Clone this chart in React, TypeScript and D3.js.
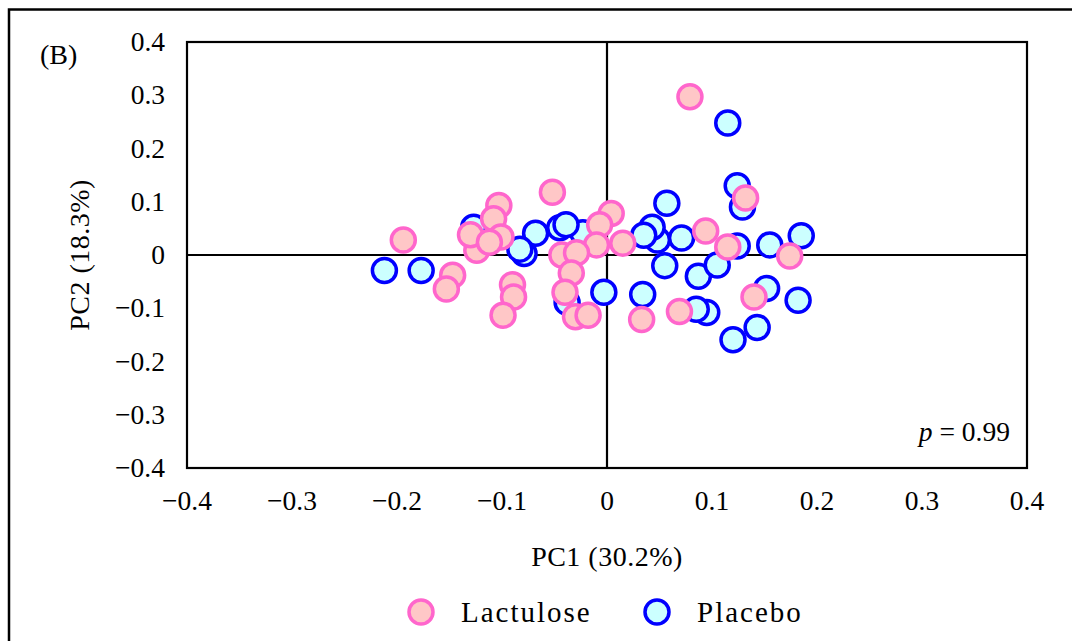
import { useEffect, useRef } from "react";
import * as d3 from "d3";

// PC1, PC2 scores
const lactulose: [number, number][] = [
  [0.079, 0.297], [0.132, 0.107], [0.094, 0.045], [0.115, 0.015], [0.174, -0.002],
  [0.140, -0.079], [0.069, -0.106], [0.033, -0.121], [0.004, 0.078], [-0.007, 0.057],
  [-0.010, 0.019], [0.015, 0.022], [-0.052, 0.118], [-0.043, 0.0], [-0.029, 0.004],
  [-0.034, -0.034], [-0.040, -0.070], [-0.030, -0.116], [-0.018, -0.113], [-0.103, 0.093],
  [-0.108, 0.068], [-0.101, 0.034], [-0.124, 0.009], [-0.130, 0.038], [-0.112, 0.024],
  [-0.194, 0.028], [-0.147, -0.038], [-0.153, -0.064], [-0.090, -0.056], [-0.089, -0.079],
  [-0.099, -0.113],
];

const placebo: [number, number][] = [
  [0.115, 0.248], [0.124, 0.130], [0.129, 0.090], [0.124, 0.017], [0.155, 0.019],
  [0.185, 0.036], [0.182, -0.085], [0.152, -0.063], [0.143, -0.136], [0.120, -0.159],
  [0.095, -0.108], [0.085, -0.102], [0.087, -0.040], [0.105, -0.019], [0.071, 0.032],
  [0.057, 0.097], [0.055, -0.020], [0.048, 0.028], [0.043, 0.052], [0.035, 0.037],
  [0.034, -0.074], [-0.003, -0.070], [-0.023, 0.042], [-0.045, 0.051], [-0.039, 0.057],
  [-0.068, 0.041], [-0.079, 0.003], [-0.083, 0.011], [-0.127, 0.052], [-0.177, -0.029],
  [-0.212, -0.029], [-0.038, -0.089],
];

const ticks = [-0.4, -0.3, -0.2, -0.1, 0, 0.1, 0.2, 0.3, 0.4];

const fmt = (v: number) => (v === 0 ? "0" : (v < 0 ? "\u2212" : "") + Math.abs(v).toFixed(1));

const FONT = "'Liberation Serif', 'DejaVu Serif', serif";

const App = () => {
  const svgRef = useRef<SVGSVGElement>(null);

  useEffect(() => {
    const width = 1072;
    const height = 641;
    const margin = { top: 42, right: 45, bottom: 173, left: 187 };

    const svg = d3.select(svgRef.current);
    svg.selectAll("*").remove();
    svg.attr("width", width).attr("height", height).style("background", "#fff");

    const x = d3.scaleLinear().domain([-0.4, 0.4]).range([margin.left, width - margin.right]);
    const y = d3.scaleLinear().domain([-0.4, 0.4]).range([height - margin.bottom, margin.top]);

    // outer frame (cut off at the right and bottom)
    svg.append("rect")
      .attr("x", 9).attr("y", 9.5).attr("width", 1200).attr("height", 800)
      .attr("fill", "none").attr("stroke", "#000").attr("stroke-width", 2.5);

    svg.append("text")
      .attr("x", 40).attr("y", 64)
      .attr("font-family", FONT).attr("font-size", 28)
      .text("(B)");

    // zero lines
    svg.append("line")
      .attr("x1", x(-0.4)).attr("x2", x(0.4)).attr("y1", y(0)).attr("y2", y(0))
      .attr("stroke", "#000").attr("stroke-width", 2.2);
    svg.append("line")
      .attr("x1", x(0)).attr("x2", x(0)).attr("y1", y(0.4)).attr("y2", y(-0.4))
      .attr("stroke", "#000").attr("stroke-width", 2.2);

    // plot frame
    svg.append("rect")
      .attr("x", x(-0.4)).attr("y", y(0.4))
      .attr("width", x(0.4) - x(-0.4)).attr("height", y(-0.4) - y(0.4))
      .attr("fill", "none").attr("stroke", "#000").attr("stroke-width", 2.2);

    // tick labels
    svg.append("g").selectAll("text").data(ticks).join("text")
      .attr("x", 165).attr("y", (d) => y(d) + 9)
      .attr("text-anchor", "end")
      .attr("font-family", FONT).attr("font-size", 27.5)
      .text(fmt);

    svg.append("g").selectAll("text").data(ticks).join("text")
      .attr("x", (d) => x(d)).attr("y", 510)
      .attr("text-anchor", "middle")
      .attr("font-family", FONT).attr("font-size", 27.5)
      .text(fmt);

    // axis titles
    svg.append("text")
      .attr("x", x(0)).attr("y", 566)
      .attr("text-anchor", "middle")
      .attr("font-family", FONT).attr("font-size", 28)
      .attr("letter-spacing", 0.5)
      .text("PC1 (30.2%)");

    svg.append("text")
      .attr("transform", `translate(89,${y(0)}) rotate(-90)`)
      .attr("text-anchor", "middle")
      .attr("font-family", FONT).attr("font-size", 28)
      .attr("letter-spacing", 0.5)
      .text("PC2 (18.3%)");

    // p value
    const pv = svg.append("text")
      .attr("x", 1010).attr("y", 441)
      .attr("text-anchor", "end")
      .attr("font-family", FONT).attr("font-size", 27.5);
    pv.append("tspan").attr("font-style", "italic").text("p");
    pv.append("tspan").text(" = 0.99");

    // points: placebo below, lactulose on top
    svg.append("g").selectAll("circle").data(placebo).join("circle")
      .attr("cx", (d) => x(d[0])).attr("cy", (d) => y(d[1])).attr("r", 12)
      .attr("fill", "#ccffff").attr("stroke", "#0000ff").attr("stroke-width", 3.5);

    svg.append("g").selectAll("circle").data(lactulose).join("circle")
      .attr("cx", (d) => x(d[0])).attr("cy", (d) => y(d[1])).attr("r", 12)
      .attr("fill", "#ffc7c7").attr("stroke", "#ff66cc").attr("stroke-width", 3.5);

    // legend
    const legend = [
      { name: "Lactulose", fill: "#ffc7c7", stroke: "#ff66cc", cx: 421 },
      { name: "Placebo", fill: "#ccffff", stroke: "#0000ff", cx: 657 },
    ];
    const lg = svg.append("g").selectAll("g").data(legend).join("g");
    lg.append("circle")
      .attr("cx", (d) => d.cx).attr("cy", 612).attr("r", 12)
      .attr("fill", (d) => d.fill).attr("stroke", (d) => d.stroke).attr("stroke-width", 3.5);
    lg.append("text")
      .attr("x", (d) => d.cx + 40).attr("y", 622)
      .attr("font-family", FONT).attr("font-size", 29)
      .attr("letter-spacing", 2)
      .text((d) => d.name);
  }, []);

  return <svg ref={svgRef} style={{ position: "absolute", left: 0, top: 0 }} />;
};

export default App;
